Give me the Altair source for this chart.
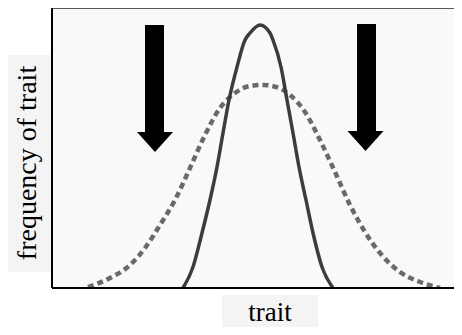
import altair as alt
import pandas as pd

# Solid curve (after selection): trait position vs frequency
solid_x = [131, 141, 150, 158, 165, 171, 177, 185, 193, 198, 208, 218, 221, 229, 235, 241, 247, 254, 261, 270, 281]
solid_y = [0, 21, 55, 88, 121, 155, 188, 221, 248, 255, 263, 255, 248, 221, 188, 155, 121, 88, 55, 21, 0]

# Dashed curve (before selection)
dash_x = [36, 58, 78, 93, 108, 123, 138, 153, 168, 183, 198, 211, 224, 238, 253, 268, 283, 298, 313, 328, 348, 368, 388]
dash_y = [1, 10, 23, 40, 63, 88, 120, 153, 180, 195, 202, 203, 201, 193, 176, 148, 116, 83, 56, 35, 16, 6, 0]

# Arrows (selection pressure on the extremes)
arrow_shaft_left = [93, 305]
arrow_shaft_right = [112, 324]
arrow_top = [263, 264]
arrow_head_base = [156, 156]
arrow_head_left = [85, 296]
arrow_head_right = [121, 331]
arrow_head_tip = [136, 138]

# Label panels
label_text = ["frequency of trait", "trait"]

X = alt.Scale(domain=[0, 402], nice=False, zero=False)
Y = alt.Scale(domain=[0, 280], nice=False, zero=False)

solid_df = pd.DataFrame({"x": solid_x, "y": solid_y})
dash_df = pd.DataFrame({"x": dash_x, "y": dash_y})
arrows_df = pd.DataFrame({
    "x": arrow_shaft_left, "x2": arrow_shaft_right,
    "y": arrow_top, "y2": arrow_head_base,
    "hx": [(a + b) / 2 for a, b in zip(arrow_head_left, arrow_head_right)],
    "hy": [(a + b) / 2 for a, b in zip(arrow_head_base, arrow_head_tip)],
})
boxes_df = pd.DataFrame({
    "x": [-44, 170], "x2": [0, 266],
    "y": [233, -7], "y2": [16, -39],
})
ylab_df = pd.DataFrame({"x": [-24], "y": [125], "t": [label_text[0]]})
xlab_df = pd.DataFrame({"x": [218], "y": [-33], "t": [label_text[1]]})
border_df = pd.DataFrame({"x": [0], "x2": [402], "y": [0], "y2": [280]})

boxes = alt.Chart(boxes_df).mark_rect(color="#f4f4f4").encode(
    x=alt.X("x:Q", scale=X, axis=None), x2="x2:Q",
    y=alt.Y("y:Q", scale=Y, axis=None), y2="y2:Q")

dashed = alt.Chart(dash_df).mark_line(
    color="#6a6a6a", strokeWidth=4.5, strokeDash=[6, 4], interpolate="monotone", clip=True
).encode(x=alt.X("x:Q", scale=X, axis=None), y=alt.Y("y:Q", scale=Y, axis=None))

solid = alt.Chart(solid_df).mark_line(
    color="#3c3c3c", strokeWidth=3.5, interpolate="monotone", clip=True
).encode(x=alt.X("x:Q", scale=X, axis=None), y=alt.Y("y:Q", scale=Y, axis=None))

shafts = alt.Chart(arrows_df).mark_rect(color="black").encode(
    x=alt.X("x:Q", scale=X, axis=None), x2="x2:Q",
    y=alt.Y("y:Q", scale=Y, axis=None), y2="y2:Q")

heads = alt.Chart(arrows_df).mark_point(
    shape="M-1,-0.55L1,-0.55L0,0.55Z", filled=True, color="black", opacity=1, size=1296
).encode(x=alt.X("hx:Q", scale=X, axis=None), y=alt.Y("hy:Q", scale=Y, axis=None))

left_b = alt.Chart(border_df).mark_rule(color="black", strokeWidth=2).encode(
    x=alt.X("x:Q", scale=X, axis=None), y=alt.Y("y:Q", scale=Y, axis=None), y2="y2:Q")
bottom_b = alt.Chart(border_df).mark_rule(color="black", strokeWidth=2).encode(
    x=alt.X("x:Q", scale=X, axis=None), x2="x2:Q", y=alt.Y("y:Q", scale=Y, axis=None))
top_b = alt.Chart(border_df).mark_rule(color="#222222", strokeWidth=1.5).encode(
    x=alt.X("x:Q", scale=X, axis=None), x2="x2:Q", y=alt.Y("y2:Q", scale=Y, axis=None))

ylab = alt.Chart(ylab_df).mark_text(
    font="Liberation Serif", fontSize=28, angle=270, align="center", baseline="middle", color="black"
).encode(x=alt.X("x:Q", scale=X, axis=None), y=alt.Y("y:Q", scale=Y, axis=None), text="t:N")

xlab = alt.Chart(xlab_df).mark_text(
    font="Liberation Serif", fontSize=27, align="center", baseline="alphabetic", color="black"
).encode(x=alt.X("x:Q", scale=X, axis=None), y=alt.Y("y:Q", scale=Y, axis=None), text="t:N")

chart = alt.layer(
    boxes, dashed, solid, shafts, heads, left_b, bottom_b, top_b, ylab, xlab
).properties(
    width=402, height=280, autosize="none",
    padding={"left": 44, "top": 0, "right": 0, "bottom": 39},
    background="white",
).configure_view(fill="#f9f9f9", strokeWidth=0)

chart.save("out.html", embed_options={"renderer": "svg", "actions": False})
